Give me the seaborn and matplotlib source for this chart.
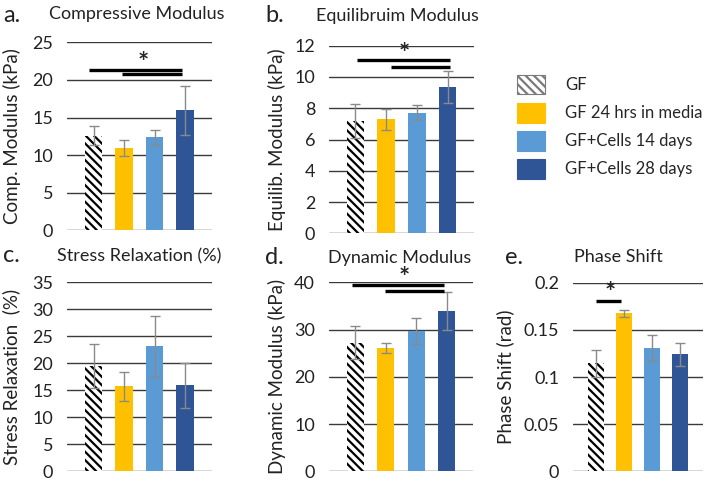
import matplotlib
matplotlib.use("Agg")
import matplotlib.pyplot as plt
import seaborn as sns
import pandas as pd
from matplotlib.patches import Patch

groups = ["GF", "GF 24 hrs in media", "GF+Cells 14 days", "GF+Cells 28 days"]
colors = ["white", "#FFC000", "#5B9BD5", "#2F5597"]

comp_mod = [12.6, 10.95, 12.35, 15.95]
comp_err = [1.3, 1.05, 1.05, 3.3]
equil_mod = [7.2, 7.3, 7.7, 9.35]
equil_err = [1.1, 0.68, 0.48, 1.0]
relax = [19.5, 15.7, 23.1, 15.9]
relax_err = [4.1, 2.7, 5.7, 4.2]
dyn_mod = [27.2, 26.1, 29.7, 33.9]
dyn_err = [3.5, 1.1, 2.7, 4.0]
phase = [0.1145, 0.1675, 0.1307, 0.124]
phase_err = [0.014, 0.004, 0.014, 0.0124]

sns.set_style("white")
plt.rcParams["font.family"] = ["Lato", "DejaVu Sans"]
plt.rcParams["hatch.linewidth"] = 1.6

W, H = 708, 482
fig = plt.figure(figsize=(W / 100, H / 100), dpi=100)


def px_axes(x0, x1, ytop, ybot):
    return fig.add_axes([x0 / W, 1 - ybot / H, (x1 - x0) / W, (ybot - ytop) / H])


def panel(ax, vals, errs, ymax, step, xlim, ylabel, ticklabels=None, label_x=-0.32):
    df = pd.DataFrame({"group": groups, "value": vals})
    sns.barplot(data=df, x="group", y="value", hue="group", palette=colors,
                saturation=1, width=0.57, errorbar=None, legend=False, ax=ax,
                linewidth=0)
    gf = ax.patches[0]
    gf.set_hatch("\\\\\\\\")
    gf.set_edgecolor("black")
    gf.set_linewidth(0)
    ax.errorbar(range(4), vals, yerr=errs, fmt="none", ecolor="#8a8a8a",
                elinewidth=1, capsize=3.5, capthick=1, zorder=4)
    ticks = [i * step for i in range(int(round(ymax / step)) + 1)]
    ax.set_ylim(0, ymax)
    ax.set_yticks(ticks)
    if ticklabels is not None:
        ax.set_yticklabels(ticklabels)
    ax.set_xlim(*xlim)
    ax.set_xticks([])
    ax.set_xlabel("")
    ax.set_ylabel(ylabel, fontsize=13.5, color="#222222")
    ax.yaxis.set_label_coords(label_x, 0.5)
    for t in ticks:
        ax.axhline(t, color="#3a3a3a", linewidth=1, zorder=0)
    sns.despine(ax=ax, left=True, bottom=True)
    ax.tick_params(axis="y", length=0, labelsize=13, pad=10, colors="#222222")


def sig(ax, segs, star_x, star_y):
    for x0, x1, y in segs:
        ax.plot([x0, x1], [y, y], color="black", linewidth=2.4, clip_on=False,
                solid_capstyle="butt", zorder=5)
    ax.text(star_x, star_y, "*", ha="center", va="center", fontsize=19,
            fontweight="bold", clip_on=False)


ax_a = px_axes(67, 212, 42.3, 230.3)
panel(ax_a, comp_mod, comp_err, 25, 5, (-0.87, 3.885), "Comp. Modulus (kPa)")
sig(ax_a, [(-0.15, 2.9, 21.28), (0.93, 2.9, 20.74)], 1.62, 22.2)

ax_b = px_axes(329, 474, 45.7, 233.3)
panel(ax_b, equil_mod, equil_err, 12, 2, (-0.86, 3.86), "Equilib. Modulus (kPa)",
      label_x=-0.30)
sig(ax_b, [(0.04, 3.08, 11.07), (1.15, 3.08, 10.62)], 1.58, 11.5)

ax_c = px_axes(67, 212, 282.3, 471)
panel(ax_c, relax, relax_err, 35, 5, (-0.87, 3.885), "Stress Relaxation  (%)")

ax_d = px_axes(329, 473, 282.3, 471.3)
panel(ax_d, dyn_mod, dyn_err, 40, 10, (-0.86, 3.86), "Dynamic Modulus (kPa)",
      label_x=-0.30)
sig(ax_d, [(-0.11, 2.92, 39.4), (0.97, 2.92, 38.2)], 1.62, 41.0)

ax_e = px_axes(573, 703, 282.7, 471.3)
panel(ax_e, phase, phase_err, 0.2, 0.05, (-0.81, 3.83), "Phase Shift (rad)",
      ticklabels=["0", "0.05", "0.1", "0.15", "0.2"], label_x=-0.45)
sig(ax_e, [(0.0, 0.92, 0.181)], 0.51, 0.189)

titles = [("Compressive Modulus", 137, 14), ("Equilibruim Modulus", 397, 16),
          ("Stress Relaxation (%)", 139, 256), ("Dynamic Modulus", 400, 258),
          ("Phase Shift", 618, 257)]
for txt, x, y in titles:
    fig.text(x / W, 1 - y / H, txt, ha="center", va="center", fontsize=13,
             color="#222222")

letters = [("a.", 3, 15), ("b.", 265, 16), ("c.", 3, 256), ("d.", 265, 258),
           ("e.", 505, 258)]
for txt, x, y in letters:
    fig.text(x / W, 1 - y / H, txt, ha="left", va="center", fontsize=17,
             color="#222222")

handles = [Patch(facecolor=c, edgecolor="#7a7a7a" if i == 0 else c,
                 hatch="\\\\\\\\" if i == 0 else None, linewidth=0.8)
           for i, c in enumerate(colors)]
fig.legend(handles, groups, loc="upper left", bbox_to_anchor=(510 / W, 1 - 68 / H),
           frameon=False, fontsize=12, handlelength=1.7, handleheight=1.45,
           labelspacing=0.5, handletextpad=1.2, borderaxespad=0)

fig.savefig("out.png", dpi=100)
